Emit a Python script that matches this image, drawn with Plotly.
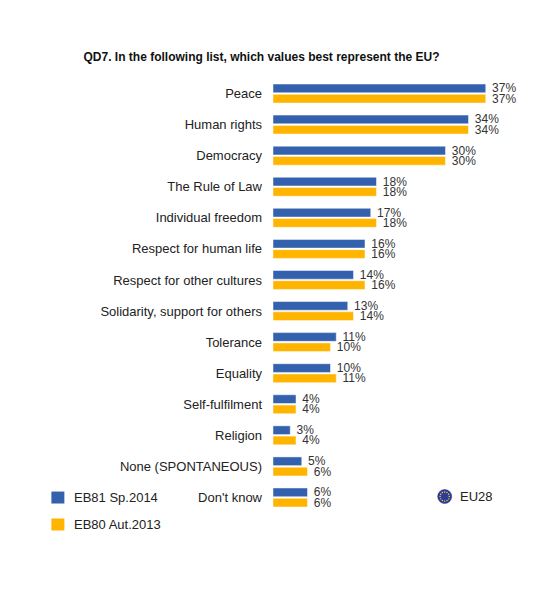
import numpy as np
import plotly.graph_objects as go

categories = ["Peace", "Human rights", "Democracy", "The Rule of Law", "Individual freedom",
              "Respect for human life", "Respect for other cultures",
              "Solidarity, support for others", "Tolerance", "Equality",
              "Self-fulfilment", "Religion", "None (SPONTANEOUS)", "Don't know"]
eb81 = [37, 34, 30, 18, 17, 16, 14, 13, 11, 10, 4, 3, 5, 6]
eb80 = [37, 34, 30, 18, 18, 16, 16, 14, 10, 11, 4, 4, 6, 6]
series_names = ["EB81 Sp.2014", "EB80 Aut.2013"]
colors = ["#3461AD", "#FFB400"]

FONT = "Liberation Sans, Arial, sans-serif"

# the page adds an 8px body margin, so figure coords = picture coords - 8
OFF = 8
W, H = 550, 595
L, R = 273 - OFF, 503.4 - OFF
T, B = 77.5 - OFF, 513.5 - OFF


def px(x):
    return (x - OFF - L) / (R - L)


def py(y):
    return (B - (y - OFF)) / (B - T)


fig = go.Figure()
for name, vals, col in zip(series_names, [eb81, eb80], colors):
    fig.add_trace(go.Bar(
        y=categories, x=vals, name=name, orientation="h",
        marker=dict(color=col, line=dict(color="rgba(255,255,255,0.6)", width=0.8)),
        texttemplate="\u00a0%{x}%", textposition="outside", cliponaxis=False,
        constraintext="none",
        textfont=dict(size=12, color="#333333", family=FONT),
        hoverinfo="x+y", showlegend=False,
    ))

# legend drawn by hand (keeps margins fixed)
for i, (name, col) in enumerate(zip(series_names, colors)):
    yc = 498 + 27 * i
    fig.add_shape(type="rect", xref="paper", yref="paper",
                  x0=px(51), x1=px(64), y0=py(yc + 6), y1=py(yc - 6),
                  fillcolor=col, line=dict(width=0))
    fig.add_annotation(x=px(72), y=py(yc), xref="paper", yref="paper", text=name,
                       showarrow=False, xanchor="left", yanchor="middle",
                       font=dict(size=13, color="#222222", family=FONT))

# EU28 badge: circle with ring of stars
cx, cy, rad = 445, 497, 7
fig.add_shape(type="circle", xref="paper", yref="paper",
              x0=px(cx - rad), x1=px(cx + rad), y0=py(cy + rad), y1=py(cy - rad),
              fillcolor="#2E3B9C", line=dict(color="#1F2A80", width=0.5))
ang = np.linspace(0, 2 * np.pi, 12, endpoint=False)
for a in ang:
    sx, sy = cx + 4.6 * np.cos(a), cy + 4.6 * np.sin(a)
    fig.add_shape(type="circle", xref="paper", yref="paper",
                  x0=px(sx - 0.7), x1=px(sx + 0.7), y0=py(sy + 0.7), y1=py(sy - 0.7),
                  fillcolor="#FFE000", line=dict(width=0))
fig.add_annotation(x=px(458), y=py(cy), xref="paper", yref="paper", text="EU28",
                   showarrow=False, xanchor="left", yanchor="middle",
                   font=dict(size=13, color="#222222", family=FONT))

fig.update_layout(
    width=W, height=H,
    margin=dict(l=L, r=W - R, t=T, b=H - B, autoexpand=False),
    paper_bgcolor="white", plot_bgcolor="white",
    barmode="group", bargap=0.34, bargroupgap=0.15,
    title=dict(text="<b>QD7. In the following list, which values best represent the EU?</b>",
               x=(261.5 - OFF) / W, xref="container", xanchor="center",
               y=1 - (57 - OFF) / H, yref="container", yanchor="middle",
               font=dict(size=12, color="#111111", family=FONT)),
    xaxis=dict(range=[0, 40], visible=False, fixedrange=True),
    yaxis=dict(autorange="reversed", showgrid=False, showline=False, ticks="",
               ticklabelstandoff=10, automargin=False,
               tickfont=dict(size=13, color="#222222", family=FONT)),
    showlegend=False,
)

fig.write_html("out.html")
